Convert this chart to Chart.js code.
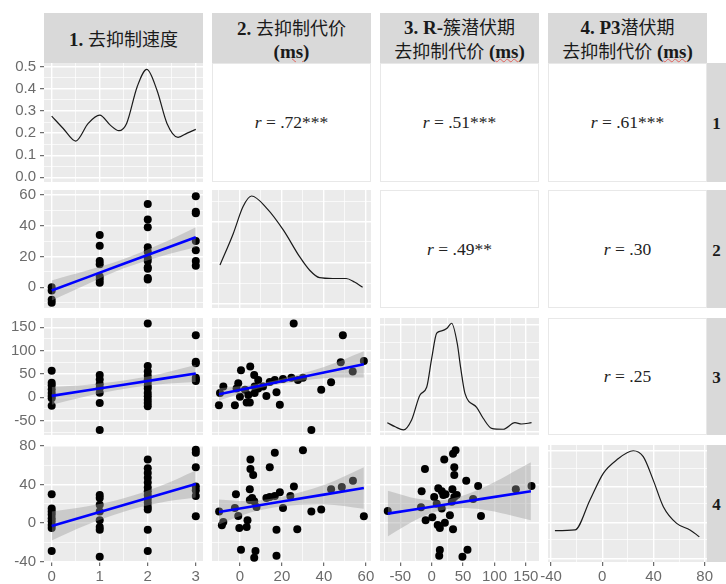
<!DOCTYPE html>
<html>
<head>
<meta charset="utf-8">
<script src="https://cdn.jsdelivr.net/npm/chart.js@4.4.3/dist/chart.umd.min.js"></script>
<style>
  html, body { margin: 0; padding: 0; background: #fff; }
  #wrap { position: relative; width: 726px; height: 584px; overflow: hidden; }
  .strip {
    position: absolute; background: #d9d9d9; box-sizing: border-box;
    display: flex; flex-direction: column; align-items: center; justify-content: center;
    font-family: "Liberation Serif", "Noto Sans CJK SC", serif; font-weight: bold;
    font-size: 19px; line-height: 23px; color: #1a1a1a; text-align: center; white-space: nowrap;
    padding-top: 2px;
  }
  .strip .cjk { font-family: "Noto Sans CJK SC", sans-serif; font-weight: normal; font-size: 18px; }
  .ms { text-decoration: underline wavy #e0605a; text-decoration-thickness: 1px; text-underline-offset: 0px; }
  .upper {
    position: absolute; background: #fff; border: 1px solid #e8e8e8; box-sizing: border-box;
    display: flex; align-items: center; justify-content: center;
    font-family: "Liberation Serif", serif; font-size: 17.5px; color: #222;
  }
  canvas { position: absolute; }
</style>
</head>
<body>
<div id="wrap"></div>
<script>
  /* ── Data ────────────────────────────────────────────────────────────── */
  const headers   = [["1. 去抑制速度"], ["2. 去抑制代价", "(ms)"], ["3. R-簇潜伏期", "去抑制代价 (ms)"], ["4. P3潜伏期", "去抑制代价 (ms)"]];
  const rowLabels = ["1", "2", "3", "4"];

  // upper triangle correlations
  const corrRows = [0, 0, 0, 1, 1, 2];
  const corrCols = [1, 2, 3, 2, 3, 3];
  const corrVals = [".72***", ".51***", ".61***", ".49**", ".30", ".25"];

  // tick values per variable
  const v1Major = [0, 1, 2, 3],              v1Minor = [0.5, 1.5, 2.5];
  const v2Major = [0, 20, 40, 60],           v2Minor = [-10, 10, 30, 50];
  const v3Major = [-50, 0, 50, 100, 150],    v3Minor = [-75, -25, 25, 75, 125];
  const v4Major = [-40, 0, 40, 80],          v4Minor = [-20, 20, 60];
  const densMajor = [0, 0.1, 0.2, 0.3, 0.4, 0.5];
  const densMinor = [0.05, 0.15, 0.25, 0.35, 0.45];

  // axis ranges (data + expansion)
  const xRanges = [[-0.16, 3.15], [-13.3, 62.4], [-82.3, 170.9], [-42.4, 81.8]];
  const yRanges = [[-0.021, 0.517], [-13.4, 63.1], [-80.7, 169.8], [-40.4, 81]];

  // diagonal densities
  const dens1X = [0, 0.24, 0.5, 0.76, 1.0, 1.22, 1.4, 1.56, 1.78, 1.98, 2.19, 2.4, 2.63, 2.82, 3.0];
  const dens1Y = [0.277, 0.221, 0.164, 0.244, 0.281, 0.236, 0.211, 0.244, 0.41, 0.488, 0.395, 0.244, 0.181, 0.2, 0.217];
  const dens2X = [-9.5, -3.2, 1.5, 5.5, 12.8, 20.7, 28.4, 33.2, 37.9, 44.2, 50.6, 54.5, 58.4];
  const dens2Y = [0.364, 0.63, 0.86, 0.949, 0.845, 0.66, 0.435, 0.32, 0.257, 0.25, 0.25, 0.22, 0.175];
  const dens3X = [-70.7, -58, -45, -32, -18.6, -8, 0, 8, 15.9, 23.9, 31.8, 40.8, 46, 53, 71.6, 82, 95.5, 114, 132.6, 143, 159];
  const dens3Y = [0.105, 0.07, 0.043, 0.128, 0.342, 0.408, 0.655, 0.87, 0.89, 0.91, 0.955, 0.78, 0.58, 0.356, 0.237, 0.143, 0.057, 0.049, 0.105, 0.094, 0.105];
  const dens4X = [-37, -21.3, -9.6, 0.8, 11.2, 24.2, 32, 39.8, 47.7, 58.1, 68.5, 75.8];
  const dens4Y = [0.268, 0.274, 0.53, 0.758, 0.872, 0.951, 0.9, 0.70, 0.473, 0.33, 0.274, 0.216];
  const diagGridMajor = [null, [0.04, 0.38, 0.73], [0.03, 0.32, 0.64, 0.94], [0.03, 0.34, 0.64, 0.95]];
  const diagGridMinor = [null, [0.21, 0.56, 0.9], [0.19, 0.49, 0.79], [0.19, 0.5, 0.8]];

  // column 1 scatter: values per category 0..3
  const catX = [0, 1, 2, 3];
  const v2ByCat = [[0, -2, -8, -10], [34, 27, 17, 15, 7, 5, 3], [54, 44, 39, 26, 23, 19, 17, 13, 12, 6, 5], [59, 49, 48, 30, 24, 17, 14]];
  const v3ByCat = [[57, 31, 26, 17, 9, 3, -2, -18], [48, 38, 28, 20, 10, -12, -70], [158, 67, 55, 46, 38, 33, 25, 19, 9, 2, -5, -12, -19], [133, 76, 73, 42, 38, 35]];
  const v4ByCat = [[30, 15, 12, 9, 5, 2, -2, -5, -29], [29, 26, 19, 12, 3, -4, -7, -35], [66, 57, 52, 47, 42, 37, 33, 29, 25, 21, 17, 14, -7, -29], [76, 73, 58, 38, 34, 28, 7]];

  // other scatter panels: [x, y]
  const p32 = [[25.6,158],[49,133],[59,78],[48,75],[53.7,55],[43.4,32],[38.7,16],[34,-70],[19,-16],[17.4,11],[12.6,3],[0.5,58],[4.9,66],[6.8,48],[-0.8,30],[-7.9,23],[-9.5,9],[-10,-17],[-2.4,-17],[3.2,-11],[4.7,-11],[0,1],[4,5],[7,9],[8.7,19],[11,23],[14.2,33],[16.6,37],[20.5,39],[24.5,42],[27.6,37],[30,42],[7,23],[2.4,16],[-1.6,19],[8.7,37]];
  const p42 = [[30,75.5],[16.6,73],[5,66],[5,56],[6.3,50],[14.2,58],[4.7,35],[-1.9,30],[25.7,38],[19,32],[16.6,28],[14.2,27],[12.6,26],[24,28],[5.8,26],[6.8,22.6],[4.7,24],[43.4,35],[48.5,37.5],[53.8,44],[20.5,15.7],[34,12],[38.7,14],[59,7],[-9.9,12],[-2.4,15.7],[-0.8,7.4],[-7.9,1],[-8.6,-2.3],[-0.3,-5],[3.6,3],[3.2,-4],[17.4,-7],[27.3,-6.5],[0.5,-27.6],[7.4,-29],[6.8,-36],[17.4,-34],[7.9,16.7]];
  const p43 = [[-70,12.5],[-17,16.4],[-16,33],[-9.6,3],[-10.7,56],[1,6],[4,27],[10.5,36],[16,33],[18.5,29],[22,30],[8,20],[16,15],[9.6,-2],[13,-5],[21,0.4],[29,8],[34,-6.4],[33,35],[40,29],[36,27],[32,22],[20,66],[36,58],[36,50],[34,72],[38,75.5],[55,44],[66,25],[74,38.5],[78.5,7.4],[134,35],[159,38.5],[13,-28],[12,-34],[57,-27.6],[49,-35]];

  // regression lines + confidence bands
  const fitCatX = [0, 0.75, 1.5, 2.25, 3];
  const fit21Y = [-2, 6.6, 15.3, 23.9, 32.5],  band21Lo = [-8.5, 2.2, 12.3, 19.9, 26],  band21Hi = [4.5, 11, 18.3, 27.9, 39];
  const fit31Y = [3, 15, 27, 39, 51],          band31Lo = [-16, 3, 18, 28, 33],         band31Hi = [22, 27, 36, 50, 69];
  const fit41Y = [-3, 7.9, 18.8, 29.6, 40.5],  band41Lo = [-18, -1.6, 11.8, 21.1, 26.5], band41Hi = [12, 17.4, 25.8, 38.1, 54.5];
  const fitV2X = [-10, 5, 20, 40, 59];
  const fit32Y = [6.4, 20.3, 34.3, 52.9, 70.6], band32Lo = [-6.6, 14.3, 28.8, 40.9, 42.6], band32Hi = [19.4, 26.3, 39.8, 64.9, 98.6];
  const fit42Y = [11.5, 16.9, 22.3, 29.5, 36.4], band42Lo = [-1.5, 10.9, 17.3, 19.5, 14.9], band42Hi = [24.5, 22.9, 27.3, 39.5, 57.9];
  const fitV3X = [-70, -20, 25, 80, 158];
  const fit43Y = [9.8, 14.9, 19.5, 25.1, 33],   band43Lo = [-13.9, 4.9, 14.5, 14.1, 3],   band43Hi = [33.5, 24.9, 24.5, 36.1, 63];

  /* ── Layout ──────────────────────────────────────────────────────────── */
  const colX = [44, 212, 380, 548];
  const colW = 159;
  const rowY = [63, 190, 318, 445];
  const rowH = [119, 118, 117, 117];
  const wrap = document.getElementById("wrap");

  const xMajors = [v1Major, v2Major, v3Major, v4Major];
  const xMinors = [v1Minor, v2Minor, v3Minor, v4Minor];

  function rich(s) {
    return s.replace(/\((ms)\)/, '(<span class="ms">$1</span>)')
            .replace(/([\u4e00-\u9fff]+)/g, '<span class="cjk">$1</span>');
  }

  function addDiv(cls, left, top, w, h, html) {
    const d = document.createElement("div");
    d.className = cls;
    Object.assign(d.style, { left: left + "px", top: top + "px", width: w + "px", height: h + "px" });
    d.innerHTML = html;
    wrap.appendChild(d);
    return d;
  }

  // column strips
  headers.forEach((lines, c) => {
    addDiv("strip", colX[c], 13, colW, 50, lines.map((l) => `<div>${rich(l)}</div>`).join(""));
  });
  // row strips
  rowLabels.forEach((lab, r) => {
    addDiv("strip", 707, rowY[r], 19, rowH[r], lab).style.fontSize = "17px";
  });
  // correlation panels
  corrVals.forEach((v, i) => {
    const r = corrRows[i], c = corrCols[i];
    addDiv("upper", colX[c], rowY[r], colW, rowH[r], `<span><i>r</i> = ${v}</span>`);
  });

  /* ── Chart helpers ───────────────────────────────────────────────────── */
  const panelBg = {
    id: "panelBg",
    beforeDraw(chart) {
      const a = chart.chartArea, ctx = chart.ctx;
      ctx.save();
      ctx.fillStyle = "#ebebeb";
      ctx.fillRect(a.left, a.top, a.right - a.left, a.bottom - a.top);
      ctx.restore();
    },
  };

  function axis(dir, range, major, minor, show, size, fmt) {
    const all = major.concat(minor).filter((v) => v >= range[0] && v <= range[1]).sort((a, b) => a - b);
    const isMajor = (v) => major.includes(v);
    return {
      type: "linear", position: dir === "x" ? "bottom" : "left", bounds: "data",
      min: range[0], max: range[1],
      afterBuildTicks: (s) => { s.ticks = all.map((v) => ({ value: v })); },
      afterFit: (s) => {
        if (dir === "x") s.height = size; else s.width = size;
        s.paddingLeft = s.paddingRight = s.paddingTop = s.paddingBottom = 0;
      },
      border: { display: false },
      grid: {
        color: "#ffffff",
        lineWidth: (ctx) => (ctx.tick && isMajor(ctx.tick.value) ? 1.4 : 0.7),
        drawTicks: show, tickLength: 4, tickWidth: 1,
        tickColor: (ctx) => (ctx.tick && isMajor(ctx.tick.value) ? "#4d4d4d" : "rgba(0,0,0,0)"),
      },
      ticks: {
        display: show, autoSkip: false, maxRotation: 0, padding: dir === "x" ? 2 : 4,
        color: "#6b6b6b", font: { family: "Liberation Sans", size: 15 },
        callback: (v) => (isMajor(v) ? (fmt ? fmt(v) : String(v)) : ""),
      },
    };
  }

  function makePanel(r, c, datasets, yRange, yMajor, yMinor, yFmt) {
    const L = c === 0 ? 44 : 18, R = 18, T = 6, B = r === 3 ? 24 : 6;
    const cv = document.createElement("canvas");
    cv.width = L + colW + R;
    cv.height = T + rowH[r] + B;
    cv.style.left = colX[c] - L + "px";
    cv.style.top = rowY[r] - T + "px";
    wrap.appendChild(cv);
    new Chart(cv, {
      type: "line",
      data: { datasets },
      options: {
        responsive: false, animation: false, events: [],
        layout: { padding: { left: 0, right: R, top: T, bottom: 0 } },
        plugins: { legend: { display: false }, tooltip: { enabled: false } },
        scales: {
          x: axis("x", xRanges[c], xMajors[c], xMinors[c], r === 3, B),
          y: axis("y", yRange, yMajor, yMinor, c === 0, L, yFmt),
        },
      },
      plugins: [panelBg],
    });
  }

  const xy = (xs, ys) => xs.map((x, i) => ({ x, y: ys[i] }));

  function scatterSets(points, fitX, fitY, lo, hi) {
    return [
      { data: xy(fitX, fitY), borderColor: "#0000ff", borderWidth: 2.6, pointRadius: 0, tension: 0, fill: false, order: 0 },
      { data: xy(fitX, lo), borderWidth: 0, borderColor: "rgba(0,0,0,0)", pointRadius: 0, tension: 0.35, fill: false, order: 1 },
      { data: xy(fitX, hi), borderWidth: 0, borderColor: "rgba(0,0,0,0)", pointRadius: 0, tension: 0.35,
        fill: "-1", backgroundColor: "rgba(153,153,153,0.4)", order: 1 },
      { data: points.map((p) => ({ x: p[0], y: p[1] })), showLine: false, pointRadius: 4,
        pointBackgroundColor: "#000", pointBorderWidth: 0, order: 2 },
    ];
  }

  const densSet = (xs, ys) => [{ data: xy(xs, ys), borderColor: "#1a1a1a", borderWidth: 1.2, pointRadius: 0,
    cubicInterpolationMode: "monotone", fill: false }];

  const byCat = (lists) => lists.flatMap((ys, i) => ys.map((y) => [catX[i], y]));

  /* ── Diagonal ────────────────────────────────────────────────────────── */
  makePanel(0, 0, densSet(dens1X, dens1Y), yRanges[0], densMajor, densMinor, (v) => v.toFixed(1));
  makePanel(1, 1, densSet(dens2X, dens2Y), [0, 1], diagGridMajor[1], diagGridMinor[1]);
  makePanel(2, 2, densSet(dens3X, dens3Y), [0, 1], diagGridMajor[2], diagGridMinor[2]);
  makePanel(3, 3, densSet(dens4X, dens4Y), [0, 1], diagGridMajor[3], diagGridMinor[3]);

  /* ── Lower triangle ──────────────────────────────────────────────────── */
  makePanel(1, 0, scatterSets(byCat(v2ByCat), fitCatX, fit21Y, band21Lo, band21Hi), yRanges[1], v2Major, v2Minor);
  makePanel(2, 0, scatterSets(byCat(v3ByCat), fitCatX, fit31Y, band31Lo, band31Hi), yRanges[2], v3Major, v3Minor);
  makePanel(3, 0, scatterSets(byCat(v4ByCat), fitCatX, fit41Y, band41Lo, band41Hi), yRanges[3], v4Major, v4Minor);
  makePanel(2, 1, scatterSets(p32, fitV2X, fit32Y, band32Lo, band32Hi), yRanges[2], v3Major, v3Minor);
  makePanel(3, 1, scatterSets(p42, fitV2X, fit42Y, band42Lo, band42Hi), yRanges[3], v4Major, v4Minor);
  makePanel(3, 2, scatterSets(p43, fitV3X, fit43Y, band43Lo, band43Hi), yRanges[3], v4Major, v4Minor);
</script>
</body>
</html>
